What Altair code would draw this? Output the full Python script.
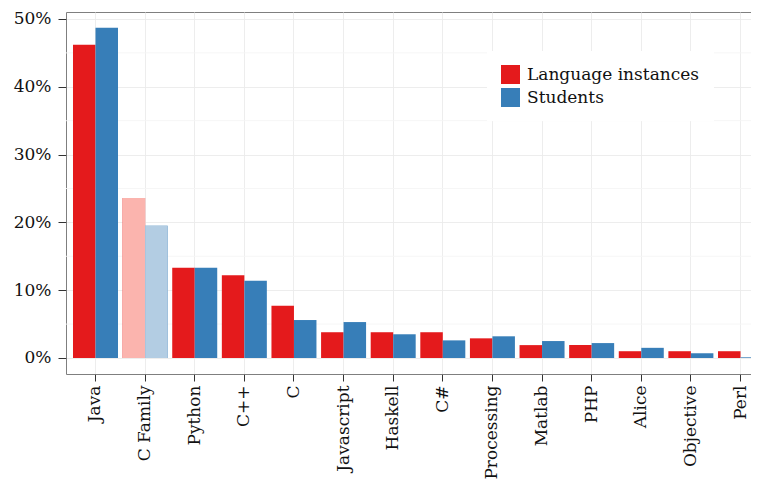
import altair as alt
import pandas as pd

languages = ["Java", "C Family", "Python", "C++", "C", "Javascript", "Haskell",
             "C#", "Processing", "Matlab", "PHP", "Alice", "Objective", "Perl"]
instances = [0.462, 0.236, 0.133, 0.122, 0.077, 0.038, 0.038, 0.038, 0.029,
             0.019, 0.019, 0.010, 0.010, 0.010]
students = [0.487, 0.195, 0.133, 0.114, 0.056, 0.053, 0.035, 0.026, 0.032,
            0.025, 0.022, 0.015, 0.007, 0.001]
series = ["Language instances", "Students"]
colors = ["#E41A1C", "#377EB8"]
highlight_colors = ["#FBB4AE", "#B3CDE3"]
highlight = ["C Family"]
y_ticks = [0, 0.1, 0.2, 0.3, 0.4, 0.5]
minor_grid = [0.05, 0.15, 0.25, 0.35, 0.45]

rows = []
for lang, a, b in zip(languages, instances, students):
    rows.append({"lang": lang, "series": series[0], "value": a})
    rows.append({"lang": lang, "series": series[1], "value": b})
df = pd.DataFrame(rows)
grid_df = pd.DataFrame({"value": minor_grid})

FONT = "DejaVu Serif"
yscale = alt.Scale(domain=[-0.0236, 0.5103], nice=False, zero=False)
yaxis = alt.Axis(values=y_ticks, format=".0%", title=None, domain=False,
                 grid=True, gridColor="#EBEBEB", gridWidth=0.9,
                 tickColor="#333333", tickSize=8, tickWidth=1,
                 labelPadding=7, labelFont=FONT, labelFontSize=17,
                 labelColor="#111111")
xscale = alt.Scale(domain=languages, paddingInner=0.093, paddingOuter=0.141)
xaxis = alt.Axis(title=None, domain=False, grid=True, gridColor="#EBEBEB",
                 gridWidth=0.9, bandPosition=0.5, tickColor="#333333",
                 tickSize=7, tickWidth=1, labelAngle=270, labelPadding=4,
                 labelFont=FONT, labelFontSize=17, labelColor="#111111")

minor = alt.Chart(grid_df).mark_rule(color="#F5F5F5", strokeWidth=0.9).encode(
    y=alt.Y("value:Q", scale=yscale, axis=yaxis)
)

bars = alt.Chart(df).mark_bar().encode(
    x=alt.X("lang:N", scale=xscale, axis=xaxis, sort=languages),
    xOffset=alt.XOffset("series:N", sort=series,
                        scale=alt.Scale(paddingInner=0, paddingOuter=0)),
    y=alt.Y("value:Q", scale=yscale, axis=yaxis),
    color=alt.Color("series:N", sort=series,
                    scale=alt.Scale(domain=series, range=colors),
                    legend=alt.Legend(title=None, orient="none", legendX=421,
                                      legendY=39, fillColor="white",
                                      padding=14, symbolType="square",
                                      symbolSize=361, symbolStrokeWidth=0,
                                      symbolOpacity=1, rowPadding=4,
                                      labelOffset=7, labelFont=FONT,
                                      labelFontSize=17, labelColor="#111111",
                                      labelLimit=400)),
)

hl = alt.Chart(df).transform_filter(
    alt.FieldOneOfPredicate(field="lang", oneOf=highlight)
).mark_bar().encode(
    x=alt.X("lang:N", scale=xscale, axis=xaxis, sort=languages),
    xOffset=alt.XOffset("series:N", sort=series,
                        scale=alt.Scale(paddingInner=0, paddingOuter=0)),
    y=alt.Y("value:Q", scale=yscale, axis=yaxis),
    color=alt.Color("series:N", sort=series,
                    scale=alt.Scale(domain=series, range=highlight_colors),
                    legend=None),
)

# the panel runs on past the right edge of the picture, as in the reference
chart = alt.layer(minor, bars, hl).resolve_scale(color="independent").properties(
    width=704, height=362,
    autosize=alt.AutoSizeParams(type="none"),
    padding={"left": 58, "top": 4, "right": -19, "bottom": 109},
    background="white",
).configure_view(stroke="#7F7F7F", strokeWidth=1)

chart.save("out.html", embed_options={"renderer": "svg", "actions": False})
